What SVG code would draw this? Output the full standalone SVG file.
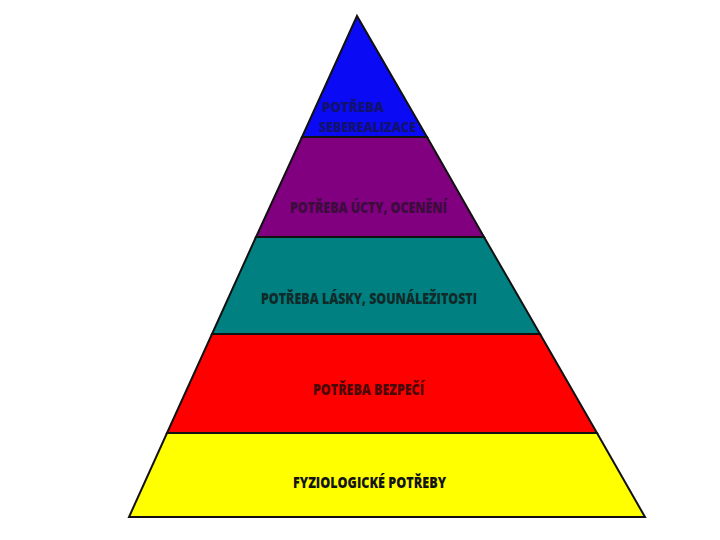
<svg xmlns="http://www.w3.org/2000/svg" width="720" height="540" viewBox="0 0 720 540">
  <style>
    .band { stroke: #111; stroke-width: 2; stroke-linejoin: miter; }
    .lbl { font-family: "Open Sans", "Liberation Sans", sans-serif; font-weight: 800; font-size: 15px; }
    .sm { font-size: 13.5px; }
  </style>
  <rect width="720" height="540" fill="#ffffff"/>
  <g id="level-5">
    <polygon class="band" points="357,16 302,137 427,137" fill="#0a0af5"/>
    <text class="lbl sm" x="322" y="112" fill="#12126e" textLength="62" lengthAdjust="spacingAndGlyphs">POTŘEBA</text>
    <text class="lbl sm" x="319" y="132" fill="#12126e" textLength="97" lengthAdjust="spacingAndGlyphs">SEBEREALIZACE</text>
  </g>
  <g id="level-4">
    <polygon class="band" points="302,137 427,137 484,237 256,237" fill="#800080"/>
    <text class="lbl" x="290" y="213" fill="#3c0c3c" textLength="157" lengthAdjust="spacingAndGlyphs">POTŘEBA ÚCTY, OCENĚNÍ</text>
  </g>
  <g id="level-3">
    <polygon class="band" points="256,237 484,237 540,334 212,334" fill="#008080"/>
    <text class="lbl" x="261" y="304" fill="#112a2a" textLength="216" lengthAdjust="spacingAndGlyphs">POTŘEBA LÁSKY, SOUNÁLEŽITOSTI</text>
  </g>
  <g id="level-2">
    <polygon class="band" points="212,334 540,334 597,433 167,433" fill="#ff0000"/>
    <text class="lbl" x="313" y="395" fill="#4a0808" textLength="111" lengthAdjust="spacingAndGlyphs">POTŘEBA BEZPEČÍ</text>
  </g>
  <g id="level-1">
    <polygon class="band" points="167,433 597,433 645,517 129,517" fill="#ffff00"/>
    <text class="lbl" x="293" y="488" fill="#141414" textLength="153" lengthAdjust="spacingAndGlyphs">FYZIOLOGICKÉ POTŘEBY</text>
  </g>
  <g id="connectors"></g>
</svg>
